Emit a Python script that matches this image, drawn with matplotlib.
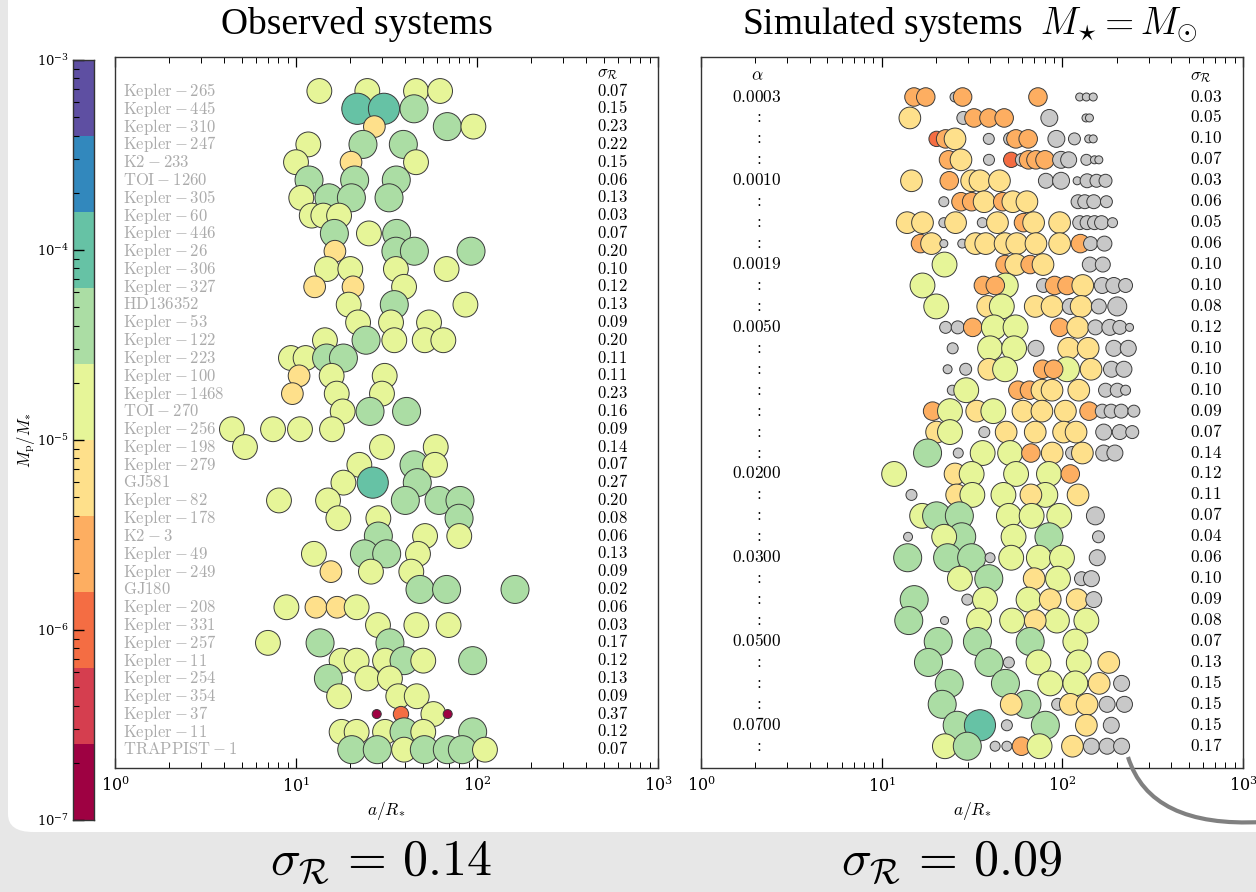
import numpy as np
import matplotlib
matplotlib.use("Agg")
import matplotlib.pyplot as plt
from matplotlib import transforms
from matplotlib.patches import FancyBboxPatch, PathPatch
from matplotlib.path import Path

plt.rcParams['mathtext.fontset'] = 'cm'
plt.rcParams['font.family'] = ['DejaVu Serif']

#-------------data-------------
# Spectral bins, 0.4 dex wide from 1e-7 to 1e-3 in Mp/M*
bin_colors = ['#9e0142', '#d53e4f', '#f46d43', '#fdae61', '#fee08b',
              '#e6f598', '#abdda4', '#66c2a5', '#3288bd', '#5e4fa2']
bin_edges_log = np.arange(-7.0, -2.99, 0.4)

obs_names = ["Kepler-265", "Kepler-445", "Kepler-310", "Kepler-247", "K2-233", "TOI-1260",
             "Kepler-305", "Kepler-60", "Kepler-446", "Kepler-26", "Kepler-306", "Kepler-327",
             "HD136352", "Kepler-53", "Kepler-122", "Kepler-223", "Kepler-100", "Kepler-1468",
             "TOI-270", "Kepler-256", "Kepler-198", "Kepler-279", "GJ581", "Kepler-82",
             "Kepler-178", "K2-3", "Kepler-49", "Kepler-249", "GJ180", "Kepler-208",
             "Kepler-331", "Kepler-257", "Kepler-11", "Kepler-254", "Kepler-354", "Kepler-37",
             "Kepler-11", "TRAPPIST-1"]
obs_sigma = ["0.07", "0.15", "0.23", "0.22", "0.15", "0.06", "0.13", "0.03", "0.07", "0.20",
             "0.10", "0.12", "0.13", "0.09", "0.20", "0.11", "0.11", "0.23", "0.16", "0.09",
             "0.14", "0.07", "0.27", "0.20", "0.08", "0.06", "0.13", "0.09", "0.02", "0.06",
             "0.03", "0.17", "0.12", "0.13", "0.09", "0.37", "0.12", "0.07"]

# per system: (log10 a/R*, log10 Mp/M*)
obs_planets = [
    [(1.129, -4.8), (1.394, -4.8), (1.663, -4.8), (1.796, -4.8)],
    [(1.339, -4.0), (1.486, -4.0), (1.652, -4.4)],
    [(1.433, -5.2), (1.836, -4.4), (1.980, -4.8)],
    [(1.068, -4.8), (1.370, -4.4), (1.593, -4.4)],
    [(1.000, -4.8), (1.304, -5.2), (1.663, -4.8)],
    [(1.072, -4.4), (1.324, -4.4), (1.554, -4.4)],
    [(1.029, -4.8), (1.182, -4.4), (1.306, -4.4), (1.514, -4.4)],
    [(1.087, -4.8), (1.151, -4.8), (1.238, -4.8)],
    [(1.212, -4.4), (1.403, -4.8), (1.556, -4.4)],
    [(1.215, -5.2), (1.552, -4.4), (1.654, -4.4), (1.967, -4.4)],
    [(1.171, -4.8), (1.300, -4.8), (1.552, -4.8), (1.832, -4.8)],
    [(1.103, -5.2), (1.315, -5.2), (1.597, -4.8)],
    [(1.291, -4.8), (1.543, -4.4), (1.936, -4.8)],
    [(1.343, -4.8), (1.525, -4.8), (1.735, -4.8)],
    [(1.160, -4.8), (1.387, -4.4), (1.543, -4.8), (1.711, -4.8), (1.814, -4.8)],
    [(0.972, -4.8), (1.053, -4.8), (1.169, -4.4), (1.262, -4.4)],
    [(1.017, -5.2), (1.197, -4.8), (1.490, -4.8)],
    [(0.980, -5.2), (1.225, -4.8), (1.475, -4.8)],
    [(1.258, -4.8), (1.409, -4.4), (1.611, -4.4)],
    [(0.646, -4.8), (0.873, -4.8), (1.022, -4.8), (1.199, -4.8)],
    [(0.718, -4.8), (1.475, -4.8), (1.772, -4.8)],
    [(1.350, -4.8), (1.652, -4.4), (1.768, -4.8)],
    [(1.262, -4.8), (1.424, -4.0), (1.670, -4.4)],
    [(0.906, -4.8), (1.177, -4.8), (1.604, -4.4), (1.790, -4.4), (1.906, -4.4)],
    [(1.234, -4.8), (1.455, -4.8), (1.901, -4.4)],
    [(1.455, -4.4), (1.713, -4.8), (1.902, -4.8)],
    [(1.099, -4.8), (1.378, -4.4), (1.501, -4.4), (1.674, -4.8)],
    [(1.193, -5.2), (1.414, -4.8), (1.637, -4.8)],
    [(1.685, -4.4), (1.832, -4.4), (2.210, -4.4)],
    [(0.947, -4.8), (1.110, -5.2), (1.227, -5.2), (1.335, -4.8)],
    [(1.453, -4.8), (1.665, -4.8), (1.843, -4.8)],
    [(0.845, -4.8), (1.133, -4.4), (1.519, -4.4)],
    [(1.252, -4.8), (1.335, -4.8), (1.492, -4.8), (1.597, -4.4), (1.703, -4.8), (1.976, -4.4)],
    [(1.179, -4.4), (1.394, -4.8), (1.519, -4.8)],
    [(1.238, -4.8), (1.565, -4.8), (1.667, -4.8)],
    [(1.446, -6.8), (1.580, -6.0), (1.759, -4.8), (1.838, -6.8)],
    [(1.252, -4.8), (1.335, -4.8), (1.492, -4.8), (1.597, -4.4), (1.703, -4.8), (1.976, -4.4)],
    [(1.308, -4.4), (1.449, -4.4), (1.597, -4.8), (1.709, -4.4), (1.836, -4.4), (1.919, -4.4), (2.044, -4.8)],
]

sim_alpha = ["0.0003", ":", ":", ":", "0.0010", ":", ":", ":", "0.0019", ":", ":",
             "0.0050", ":", ":", ":", ":", ":", ":", "0.0200", ":", ":", ":",
             "0.0300", ":", ":", ":", "0.0500", ":", ":", ":", "0.0700", ":"]
sim_sigma = ["0.03", "0.05", "0.10", "0.07", "0.03", "0.06", "0.05", "0.06", "0.10", "0.10",
             "0.08", "0.12", "0.10", "0.10", "0.10", "0.09", "0.07", "0.14", "0.12", "0.11",
             "0.07", "0.04", "0.06", "0.10", "0.09", "0.08", "0.07", "0.13", "0.15", "0.15",
             "0.15", "0.17"]

# per system: (log10 a/R*, log10 Mp/M*, detected 1 / not 0)
sim_planets = [
    [(1.179, -5.6, 1), (1.244, -5.6, 1), (1.406, -6.68, 0), (1.448, -5.6, 1), (1.865, -5.6, 1),
     (2.096, -6.93, 0), (2.133, -6.93, 0), (2.171, -6.93, 0)],
    [(1.156, -5.2, 1), (1.452, -6.3, 0), (1.511, -5.6, 1), (1.594, -5.6, 1), (1.678, -5.6, 1),
     (1.928, -5.8, 0), (2.131, -6.93, 0), (2.150, -6.93, 0)],
    [(1.304, -6.0, 1), (1.354, -5.6, 1), (1.406, -5.2, 1), (1.593, -6.55, 0), (1.711, -6.3, 0),
     (1.743, -5.6, 1), (1.811, -5.6, 1), (1.967, -5.8, 0), (2.067, -6.43, 0), (2.146, -6.93, 0),
     (2.171, -6.93, 0)],
    [(1.370, -5.6, 1), (1.439, -5.2, 1), (1.594, -6.55, 0), (1.717, -6.0, 1), (1.776, -6.3, 0),
     (1.813, -5.6, 1), (1.854, -5.6, 1), (1.904, -5.6, 1), (1.993, -5.8, 0), (2.035, -5.92, 0),
     (2.133, -6.55, 0), (2.178, -6.93, 0), (2.202, -6.93, 0)],
    [(1.165, -5.2, 1), (1.374, -5.6, 1), (1.498, -5.2, 1), (1.544, -5.2, 1), (1.652, -5.2, 1),
     (1.909, -6.05, 0), (1.993, -5.8, 0), (2.082, -6.93, 0), (2.137, -6.18, 0), (2.189, -6.3, 0),
     (2.239, -6.3, 0)],
    [(1.344, -6.68, 0), (1.439, -5.6, 1), (1.498, -5.6, 1), (1.567, -5.2, 1), (1.670, -5.6, 1),
     (1.726, -5.2, 1), (1.804, -5.2, 1), (2.087, -6.18, 0), (2.124, -6.18, 0), (2.174, -6.18, 0),
     (2.244, -6.43, 0)],
    [(1.141, -5.2, 1), (1.226, -5.2, 1), (1.344, -6.68, 0), (1.409, -5.2, 1), (1.557, -6.68, 0),
     (1.641, -5.2, 1), (1.785, -5.6, 1), (1.841, -5.2, 1), (1.985, -5.2, 1), (2.096, -6.18, 0),
     (2.137, -6.18, 0), (2.178, -6.18, 0), (2.217, -6.18, 0), (2.278, -6.68, 0)],
    [(1.215, -5.6, 1), (1.276, -5.2, 1), (1.344, -6.93, 0), (1.446, -6.81, 0), (1.520, -5.2, 1),
     (1.576, -5.2, 1), (1.683, -5.2, 1), (1.748, -5.2, 1), (1.854, -5.2, 1), (1.985, -5.2, 1),
     (2.100, -5.6, 1), (2.156, -6.18, 0), (2.233, -6.05, 0)],
    [(1.348, -4.8, 1), (1.683, -5.6, 1), (1.743, -5.2, 1), (1.822, -5.6, 1), (1.893, -5.2, 1),
     (2.152, -6.05, 0), (2.224, -6.05, 0)],
    [(1.226, -4.8, 1), (1.687, -4.8, 1), (1.563, -5.6, 1), (1.629, -5.6, 1), (1.896, -6.18, 0),
     (1.957, -5.6, 1), (2.026, -5.6, 1), (2.113, -5.2, 1), (2.221, -5.92, 0), (2.285, -5.92, 0),
     (2.350, -6.18, 0)],
    [(1.302, -4.8, 1), (1.587, -5.2, 1), (1.665, -4.8, 1), (1.850, -5.2, 1), (1.943, -5.2, 1),
     (2.044, -5.92, 0), (2.104, -5.2, 1), (2.202, -6.05, 0), (2.304, -5.54, 0)],
    [(1.354, -6.43, 0), (1.421, -6.3, 0), (1.504, -5.6, 1), (1.621, -4.8, 1), (1.741, -4.8, 1),
     (1.985, -5.6, 1), (2.085, -5.2, 1), (2.183, -6.05, 0), (2.263, -5.92, 0), (2.318, -6.18, 0),
     (2.372, -6.93, 0)],
    [(1.393, -6.55, 0), (1.600, -4.8, 1), (1.733, -4.8, 1), (1.854, -5.92, 0), (2.035, -5.2, 1),
     (2.143, -5.2, 1), (2.285, -5.92, 0), (2.365, -5.92, 0)],
    [(1.365, -6.81, 0), (1.465, -6.43, 0), (1.593, -5.2, 1), (1.683, -4.8, 1), (2.026, -4.8, 1),
     (1.891, -5.6, 1), (1.952, -5.6, 1), (2.159, -5.2, 1), (2.272, -5.92, 0), (2.341, -5.92, 0)],
    [(1.391, -6.68, 0), (1.468, -4.8, 1), (1.754, -5.6, 1), (1.818, -5.6, 1), (1.887, -5.2, 1),
     (1.943, -5.2, 1), (2.091, -5.2, 1), (2.239, -6.18, 0), (2.304, -6.18, 0), (2.350, -6.68, 0)],
    [(1.282, -5.6, 1), (1.378, -4.8, 1), (1.526, -5.2, 1), (1.618, -4.8, 1), (1.782, -5.2, 1),
     (1.887, -5.2, 1), (2.017, -5.2, 1), (2.148, -5.6, 1), (2.221, -6.18, 0), (2.270, -6.18, 0),
     (2.326, -6.18, 0), (2.396, -6.43, 0)],
    [(1.304, -5.2, 1), (1.378, -4.8, 1), (1.568, -6.55, 0), (1.689, -5.2, 1), (1.850, -5.2, 1),
     (2.007, -5.2, 1), (2.076, -5.2, 1), (2.229, -5.92, 0), (2.318, -6.05, 0), (2.387, -6.3, 0)],
    [(1.254, -4.4, 1), (1.424, -6.68, 0), (1.559, -4.8, 1), (1.711, -4.8, 1), (1.826, -5.6, 1),
     (1.944, -5.2, 1), (2.054, -6.3, 0), (2.111, -5.2, 1), (2.229, -5.92, 0), (2.291, -5.92, 0)],
    [(1.069, -4.8, 1), (1.406, -5.2, 1), (1.498, -4.8, 1), (1.744, -4.8, 1), (1.926, -4.8, 1),
     (2.044, -5.6, 1)],
    [(1.165, -6.55, 0), (1.415, -5.2, 1), (1.502, -4.8, 1), (1.674, -4.8, 1), (1.906, -4.8, 1),
     (1.826, -5.2, 1), (2.087, -5.2, 1)],
    [(1.224, -4.8, 1), (1.304, -4.4, 1), (1.430, -4.4, 1), (1.704, -4.8, 1), (1.830, -4.8, 1),
     (1.983, -4.8, 1), (2.183, -5.67, 0)],
    [(1.146, -6.81, 0), (1.443, -4.4, 1), (1.346, -4.8, 1), (1.730, -4.8, 1), (1.926, -4.4, 1),
     (2.200, -6.43, 0)],
    [(1.144, -4.4, 1), (1.365, -4.4, 1), (1.498, -4.4, 1), (1.600, -6.68, 0), (1.717, -4.8, 1),
     (1.870, -4.8, 1), (1.998, -4.8, 1), (2.193, -5.92, 0)],
    [(1.433, -4.8, 1), (1.593, -4.4, 1), (1.844, -5.2, 1), (1.976, -4.8, 1), (2.106, -6.18, 0),
     (2.161, -5.92, 0)],
    [(1.180, -4.4, 1), (1.474, -6.55, 0), (1.572, -4.8, 1), (1.813, -4.8, 1), (1.933, -5.2, 1),
     (2.082, -5.2, 1), (2.174, -5.92, 0)],
    [(1.150, -4.4, 1), (1.348, -6.93, 0), (1.539, -4.8, 1), (1.722, -4.8, 1), (1.970, -4.8, 1),
     (1.850, -5.2, 1), (2.133, -4.8, 1)],
    [(1.313, -4.4, 1), (1.530, -4.4, 1), (1.822, -4.4, 1), (2.072, -4.8, 1)],
    [(1.259, -4.4, 1), (1.594, -4.4, 1), (1.704, -6.55, 0), (1.868, -4.8, 1), (2.091, -4.8, 1),
     (2.257, -5.2, 1)],
    [(1.374, -4.4, 1), (1.685, -4.4, 1), (1.933, -4.8, 1), (2.072, -4.8, 1), (2.204, -5.2, 1),
     (2.328, -5.92, 0)],
    [(1.335, -4.4, 1), (1.804, -4.4, 1), (1.717, -5.2, 1), (1.974, -6.43, 0), (2.044, -5.2, 1),
     (2.137, -5.2, 1), (2.248, -5.92, 0), (2.344, -5.92, 0)],
    [(1.418, -4.4, 1), (1.544, -4.0, 1), (1.693, -6.55, 0), (1.906, -4.4, 1), (2.133, -5.2, 1),
     (2.271, -5.92, 0)],
    [(1.350, -4.8, 1), (1.474, -4.4, 1), (1.628, -6.68, 0), (1.693, -6.68, 0), (1.774, -5.6, 1),
     (1.874, -4.8, 1), (2.056, -5.2, 1), (2.161, -5.92, 0), (2.248, -5.92, 0), (2.328, -5.92, 0)],
]

total_sigma = ["0.14", "0.09"]


#-------------helpers-------------
def mass_color(logm):
    k = int(np.clip(np.floor((logm + 7.0) / 0.4), 0, 9))
    return bin_colors[k]

def mass_size(logm):
    d_px = 28 + 7.9 * (logm + 4.4)
    return (0.72 * max(d_px, 5)) ** 2

def fmt_name(name):
    if "-" in name:
        a, b = name.split("-")
        return r"$\mathrm{%s}-%s$" % (a, b)
    return r"$\mathrm{%s}$" % name

def style_axes(ax, nrows_top, nrows_bot):
    ax.set_xscale('log')
    ax.set_xlim(1, 1000)
    ax.set_ylim(nrows_bot, nrows_top)
    ax.set_yticks([])
    ax.tick_params(axis='x', which='both', direction='in', top=True, bottom=True,
                   labelsize=11.5, pad=6)
    ax.tick_params(axis='x', which='major', length=7, width=0.9)
    ax.tick_params(axis='x', which='minor', length=4, width=0.7)
    for sp in ax.spines.values():
        sp.set_color('#333333')
        sp.set_linewidth(1.0)
    ax.set_xlabel(r'$a/R_{*}$', fontsize=12.5, labelpad=3)


#-------------figure-------------
fig = plt.figure(figsize=(12.56, 8.92), dpi=100)
fig.patch.set_facecolor('#e7e7e7')
panel = FancyBboxPatch((8 / 1256, 1 - 832 / 892), 1.2, 1.2,
                       boxstyle='round,pad=0,rounding_size=0.02',
                       transform=fig.transFigure, fc='white', ec='none', zorder=-10)
fig.add_artist(panel)

# colour bar drawn by hand on a log axis
cax = fig.add_axes([73 / 1256, 1 - 820 / 892, 21 / 1256, 760 / 892])
cax.set_yscale('log')
cax.set_ylim(1e-7, 1e-3)
cax.set_xlim(0, 1)
for k, c in enumerate(bin_colors):
    cax.axhspan(10 ** bin_edges_log[k], 10 ** bin_edges_log[k + 1], color=c, lw=0)
cax.set_xticks([])
cax.tick_params(axis='y', which='both', direction='in', left=True, right=False,
                labelsize=9.5, pad=3)
cax.tick_params(axis='y', which='major', length=8, width=1)
cax.tick_params(axis='y', which='minor', length=4, width=0.8)
for sp in cax.spines.values():
    sp.set_color('#333333')
    sp.set_linewidth(1.0)
fig.text(26 / 1256, 1 - 440 / 892, r'$M_{\rm p}/M_{*}$', rotation=90,
         ha='center', va='center', fontsize=12)

# observed systems
ax1 = fig.add_axes([115 / 1256, 1 - 768 / 892, 543 / 1256, 711 / 892])
style_axes(ax1, -1.91, 38.03)
xs, ys, cs, ss = [], [], [], []
for r, row in enumerate(obs_planets):
    for la, lm in row:
        xs.append(10 ** la)
        ys.append(r)
        cs.append(mass_color(lm))
        ss.append(mass_size(lm))
ax1.scatter(xs, ys, s=ss, c=cs, edgecolors='#3a3a3a', linewidths=0.7, zorder=3)
tr1 = transforms.blended_transform_factory(ax1.transAxes, ax1.transData)
for r, (nm, sg) in enumerate(zip(obs_names, obs_sigma)):
    ax1.text(0.0147, r, fmt_name(nm), transform=tr1, ha='left', va='center',
             fontsize=12, color='#ababab')
    ax1.text(0.888, r, r'$%s$' % sg, transform=tr1, ha='left', va='center', fontsize=12)
ax1.text(0.888, -1, r'$\sigma_{\mathcal{R}}$', transform=tr1, ha='left', va='center', fontsize=12)

# simulated systems
ax2 = fig.add_axes([701 / 1256, 1 - 768 / 892, 542 / 1256, 711 / 892])
style_axes(ax2, -1.91, 32.04)
xs, ys, cs, ss = [], [], [], []
for r, row in enumerate(sim_planets):
    for la, lm, seen in row:
        xs.append(10 ** la)
        ys.append(r)
        cs.append(mass_color(lm) if seen else '#c8c8c8')
        ss.append(mass_size(lm))
ax2.scatter(xs, ys, s=ss, c=cs, edgecolors='#3a3a3a', linewidths=0.7, zorder=3)
tr2 = transforms.blended_transform_factory(ax2.transAxes, ax2.transData)
for r, (al, sg) in enumerate(zip(sim_alpha, sim_sigma)):
    ax2.text(0.103, r, r'$%s$' % al, transform=tr2, ha='center', va='center', fontsize=12.5)
    ax2.text(0.902, r, r'$%s$' % sg, transform=tr2, ha='left', va='center', fontsize=12.5)
ax2.text(0.103, -1, r'$\alpha$', transform=tr2, ha='center', va='center', fontsize=12.5)
ax2.text(0.902, -1, r'$\sigma_{\mathcal{R}}$', transform=tr2, ha='left', va='center', fontsize=12.5)

# titles
fig.text(357 / 1256, 1 - 25 / 892, 'Observed systems', ha='center', va='center',
         family='Liberation Serif', fontsize=27)
fig.text(970 / 1256, 1 - 25 / 892, r'Simulated systems  $M_{\star}=M_{\odot}$',
         ha='center', va='center', family='Liberation Serif', fontsize=27)

# grey connector curve
p0 = (1128 / 1256, 1 - 757 / 892)
p1 = (1150 / 1256, 1 - 828 / 892)
p2 = (1262 / 1256, 1 - 822 / 892)
curve = PathPatch(Path([p0, p1, p2], [Path.MOVETO, Path.CURVE3, Path.CURVE3]),
                  transform=fig.transFigure, fc='none', ec='#808080', lw=3.0, zorder=5)
fig.add_artist(curve)

# bottom summary numbers
fig.text(381 / 1256, 1 - 862 / 892, r'$\sigma_{\mathcal{R}}\,=\,%s$' % total_sigma[0],
         ha='center', va='center', fontsize=36)
fig.text(952 / 1256, 1 - 862 / 892, r'$\sigma_{\mathcal{R}}\,=\,%s$' % total_sigma[1],
         ha='center', va='center', fontsize=36)

fig.savefig('out.png', dpi=100, facecolor=fig.get_facecolor())
